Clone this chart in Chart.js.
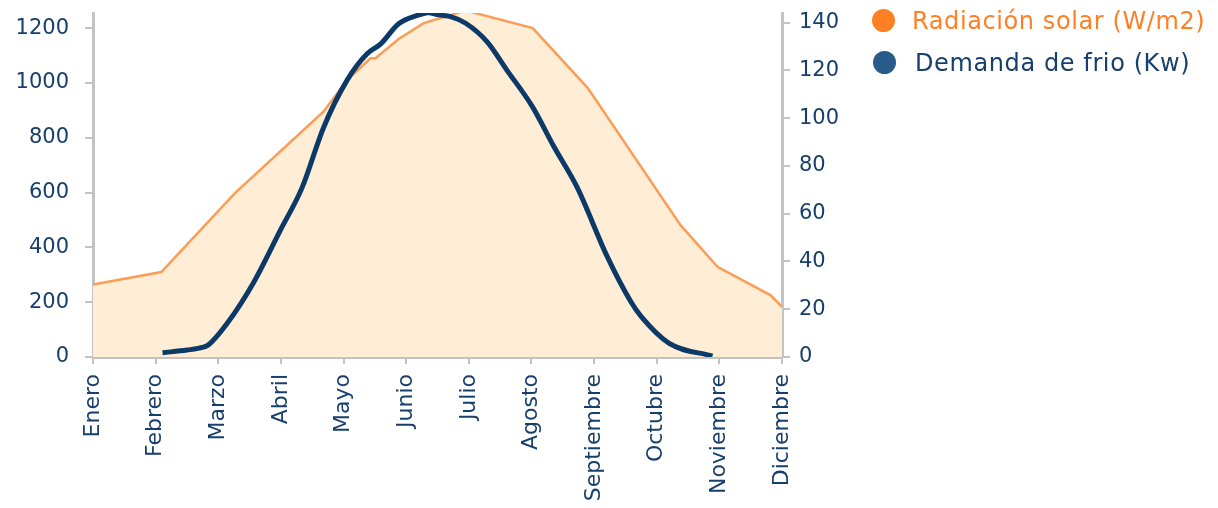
<!DOCTYPE html>
<html>
<head>
<meta charset="utf-8">
<script src="https://cdn.jsdelivr.net/npm/chart.js@4"></script>
<style>
  body { margin: 0; background: #fff; }
  #wrap { position: relative; width: 1218px; height: 508px; }
  #legend { position: absolute; left: 872px; top: 0; font-family: "DejaVu Sans"; font-size: 24px; letter-spacing: 0.6px; }
  .item { position: relative; height: 42px; line-height: 42px; white-space: nowrap; }
  .dot { position: absolute; top: 9px; width: 23px; height: 23px; border-radius: 50%; }
</style>
</head>
<body>
<div id="wrap">
  <canvas id="chart" width="1218" height="508"></canvas>
  <div id="legend">
    <div class="item"><span class="dot" style="left:0;background:#ff7f24"></span><span style="margin-left:40px;color:#ff7f24">Radiación solar (W/m2)</span></div>
    <div class="item"><span class="dot" style="left:1px;background:#285a8a"></span><span style="margin-left:43px;color:#173f6b">Demanda de frio (Kw)</span></div>
  </div>
</div>
<script>
// Month labels on the x axis (x = 0 .. 11)
const months = ["Enero","Febrero","Marzo","Abril","Mayo","Junio","Julio","Agosto","Septiembre","Octubre","Noviembre","Diciembre"];

// Radiacion solar (W/m2), left axis
const radMes = [0, 1.09, 2.27, 3.68, 4.06, 4.43, 4.51, 4.88, 5.28, 5.95, 7.02, 7.90, 9.38, 9.97, 10.82, 11];
const radVal = [264, 310, 599, 895, 1011, 1090, 1090, 1160, 1218, 1264, 1200, 981, 481, 329, 225, 183];

// Demanda de frio (Kw), right axis
const demMes = [1.11, 1.50, 1.76, 1.84, 2.14, 2.56, 2.99, 3.34, 3.68, 4.06, 4.38, 4.59, 4.88, 5.18, 5.36, 5.52, 5.71, 5.95, 6.29, 6.61, 7.01, 7.36, 7.73, 8.21, 8.59, 8.75, 9.20, 9.89];
const demVal = [1.8, 2.9, 4.1, 5.0, 14, 31, 53, 71, 96, 116, 127, 131, 139.5, 143, 144.2, 143.2, 142.5, 139.7, 132, 120, 105, 88, 71, 42, 23, 17, 5.7, 0.4];

const leftTicks = [0, 200, 400, 600, 800, 1000, 1200];
const rightTicks = [0, 20, 40, 60, 80, 100, 120, 140];

const txt = "#173f6b";
const axisGrey = "#c3c3c3";
const tickFont = { family: "DejaVu Sans", size: 21 };

const toPts = (xs, ys) => xs.map((x, i) => ({ x: x, y: ys[i] }));

// fixed box size for an axis, no extra label padding
function fixBox(w, h) {
  return s => {
    if (w) s.width = w;
    if (h) s.height = h;
    s.paddingTop = 0; s.paddingBottom = 0;
    s.paddingLeft = 0; s.paddingRight = 0;
  };
}

new Chart(document.getElementById("chart"), {
  type: "line",
  data: {
    datasets: [
      {
        label: "Demanda de frio (Kw)",
        data: toPts(demMes, demVal),
        yAxisID: "y2",
        borderColor: "#0b3a68",
        borderWidth: 5,
        pointRadius: 0,
        cubicInterpolationMode: "monotone",
        fill: false,
        order: 0
      },
      {
        label: "Radiación solar (W/m2)",
        data: toPts(radMes, radVal),
        yAxisID: "y",
        borderColor: "#fb9d55",
        backgroundColor: "#ffedd5",
        borderWidth: 2.5,
        pointRadius: 0,
        tension: 0,
        fill: "origin",
        order: 1
      }
    ]
  },
  options: {
    responsive: false,
    animation: false,
    layout: { padding: { top: 13, left: 0, right: 0, bottom: 0 } },
    plugins: { legend: { display: false }, tooltip: { enabled: false } },
    scales: {
      x: {
        type: "linear",
        min: 0,
        max: 11,
        afterFit: fixBox(0, 151),
        afterBuildTicks: s => { s.ticks = months.map((m, i) => ({ value: i })); },
        grid: { drawOnChartArea: false, drawTicks: true, tickLength: 7, color: axisGrey, lineWidth: 2 },
        border: { color: axisGrey, width: 3 },
        ticks: {
          autoSkip: false,
          minRotation: 90,
          maxRotation: 90,
          padding: 10,
          color: txt,
          font: { family: "DejaVu Sans", size: 22 },
          callback: v => months[v]
        }
      },
      y: {
        position: "left",
        min: 0,
        max: 1255,
        afterFit: fixBox(93, 0),
        afterBuildTicks: s => { s.ticks = leftTicks.map(v => ({ value: v })); },
        grid: { drawOnChartArea: false, drawTicks: true, tickLength: 8, color: axisGrey, lineWidth: 2 },
        border: { color: axisGrey, width: 3 },
        ticks: { padding: 16, color: txt, font: tickFont, callback: v => String(v) }
      },
      y2: {
        position: "right",
        min: 0,
        max: 144,
        afterFit: fixBox(1218 - 782, 0),
        afterBuildTicks: s => { s.ticks = rightTicks.map(v => ({ value: v })); },
        grid: { drawOnChartArea: false, drawTicks: true, tickLength: 8, color: axisGrey, lineWidth: 2 },
        border: { color: axisGrey, width: 3 },
        ticks: { padding: 9, color: txt, font: tickFont, callback: v => String(v) }
      }
    }
  }
});
</script>
</body>
</html>
